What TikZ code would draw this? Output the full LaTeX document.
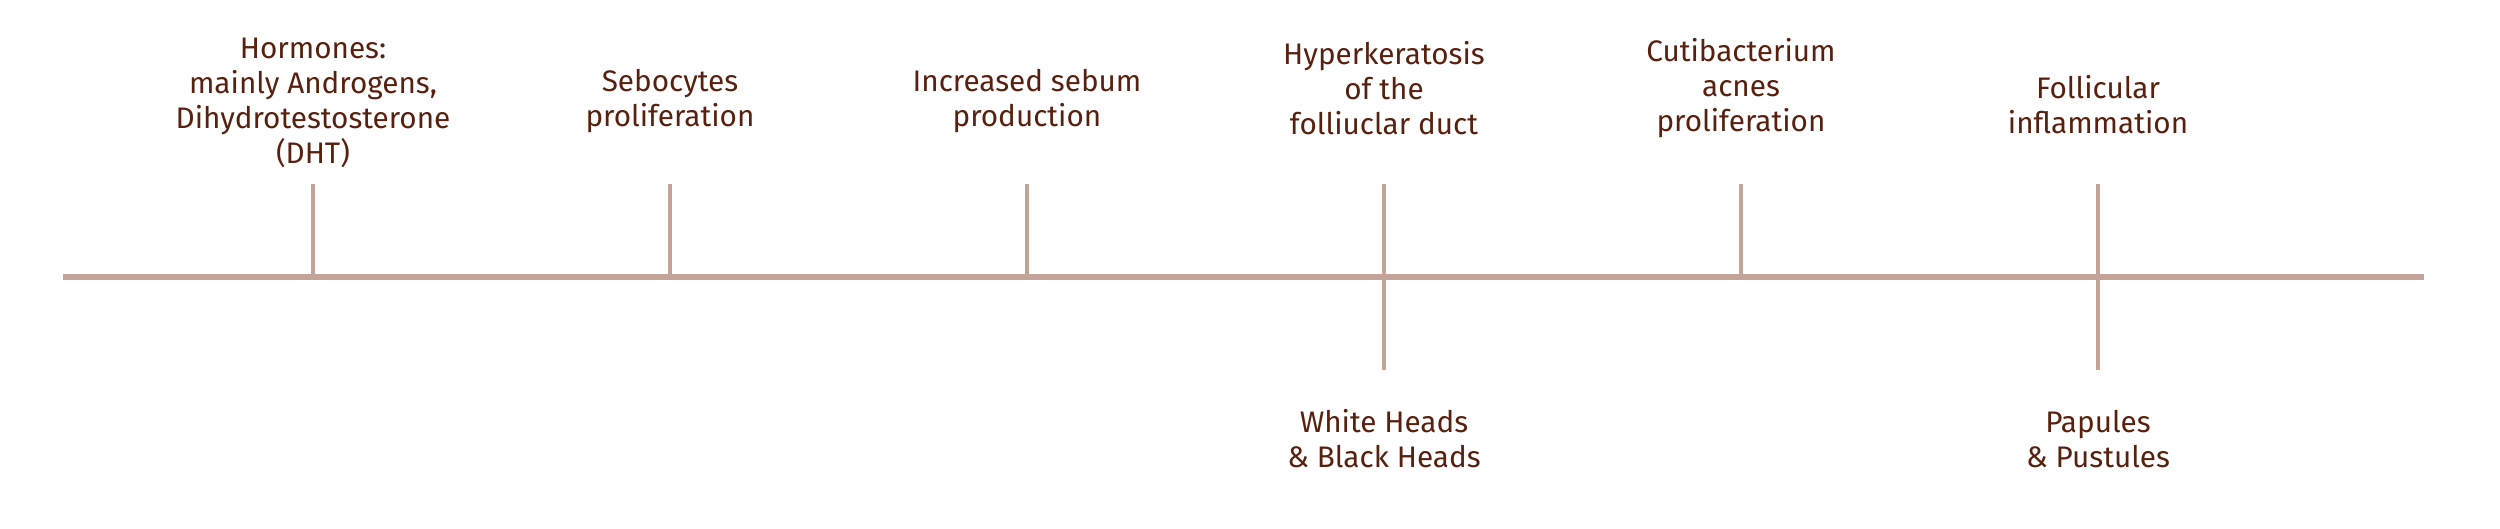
\documentclass[tikz,border=0pt]{standalone}
\usepackage{fontspec}
\setmainfont{Fira Sans}
\usepackage{tikz}
\usetikzlibrary{positioning}

\definecolor{stemcolor}{HTML}{C4A498}
\definecolor{textbrown}{HTML}{58200E}

\begin{document}
\begin{tikzpicture}[x=0.1mm,y=-0.1mm,
                    steplabel/.style={align=center,
                                      inner sep=0mm,
                                      text=textbrown,
                                      font=\fontsize{8.45}{9.95}\selectfont
                                     },
                    stemline/.style={line width=0.45mm,
                                     draw=stemcolor
                                    },
                    axisline/.style={line width=0.55mm,
                                     draw=stemcolor
                                    }
                   ]
  \useasboundingbox (0,0) rectangle (2500,529);
  % timeline axis
  \coordinate (start) at (63,277);
  \coordinate (end) at (2424,277);
  \coordinate (hormbase) at (313,277);
  \coordinate (sebobase) at (670,277);
  \coordinate (sebumbase) at (1027,277);
  \coordinate (keratbase) at (1384,277);
  \coordinate (bactbase) at (1741,277);
  \coordinate (inflambase) at (2098,277);
  \coordinate (hormtop) at (313,184);
  \coordinate (sebotop) at (670,184);
  \coordinate (sebumtop) at (1027,184);
  \coordinate (kerattop) at (1384,184);
  \coordinate (bacttop) at (1741,184);
  \coordinate (inflamtop) at (2098,184);
  \coordinate (keratbottom) at (1384,370);
  \coordinate (inflambottom) at (2098,370);

  \node[steplabel] (hormones) at (313,103) {Hormones:\\mainly Androgens,\\Dihydrotestosterone\\(DHT)};
  \node[steplabel] (sebocytes) at (670,101) {Sebocytes\\proliferation};
  \node[steplabel] (sebum) at (1027,101) {Increased sebum\\production};
  \node[steplabel] (keratosis) at (1384,88) {Hyperkeratosis\\of the\\folliuclar duct};
  \node[steplabel] (bacterium) at (1741,88) {Cutibacterium\\acnes\\proliferation};
  \node[steplabel] (inflammation) at (2098,105) {Follicular\\inflammation};
  \node[steplabel] (heads) at (1384,439) {White Heads\\\& Black Heads};
  \node[steplabel] (papules) at (2098,439) {Papules\\\& Pustules};

  \draw [axisline] (start) -- (end);
  \draw [stemline] (hormbase) -- (hormtop);
  \draw [stemline] (sebobase) -- (sebotop);
  \draw [stemline] (sebumbase) -- (sebumtop);
  \draw [stemline] (kerattop) -- (keratbottom);
  \draw [stemline] (bactbase) -- (bacttop);
  \draw [stemline] (inflamtop) -- (inflambottom);

\end{tikzpicture}
\end{document}
